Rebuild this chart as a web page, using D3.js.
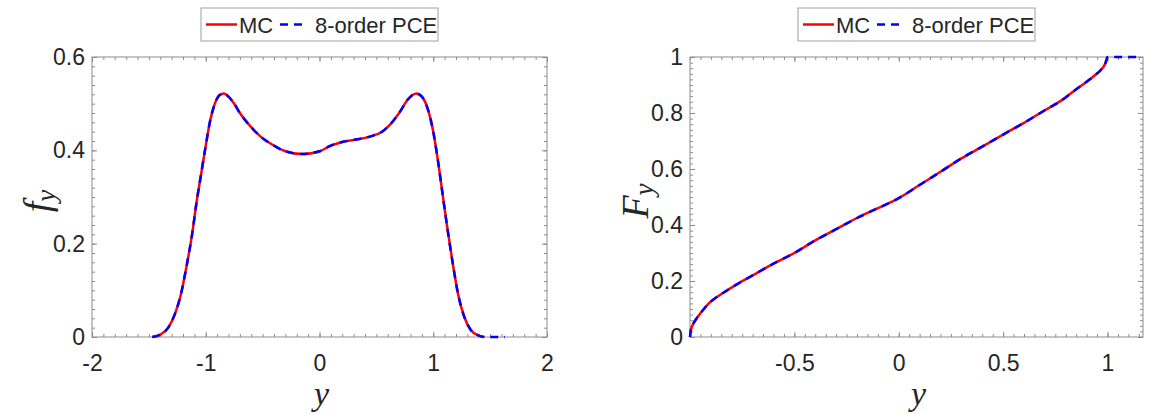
<!DOCTYPE html>
<html>
<head>
<meta charset="utf-8">
<script src="https://d3js.org/d3.v7.min.js"></script>
<style>
  body { margin: 0; background: #fff; }
  .tick text { font-family: "Liberation Sans", Arial, sans-serif; font-size: 23px; fill: #262626; }
  .tick line { stroke: #8c8c8c; }
  .legendText { font-family: "Liberation Sans", Arial, sans-serif; font-size: 21px; fill: #262626; }
  .mathLabel { font-family: "Liberation Serif", "Times New Roman", serif; font-style: italic; fill: #262626; }
</style>
</head>
<body>
<script>
//pdf and cdf of y, MC against 8-order PCE

//pdf panel data
var pdfX = [-1.47, -1.40, -1.33, -1.27, -1.22, -1.17, -1.12, -1.08, -1.04, -1.00, -0.96, -0.92, -0.88, -0.84, -0.80, -0.75, -0.70, -0.62, -0.52, -0.42, -0.30, -0.15, 0.00, 0.10, 0.20, 0.32, 0.45, 0.55, 0.62, 0.70, 0.78, 0.85, 0.90, 0.95, 1.00, 1.04, 1.08, 1.12, 1.17, 1.22, 1.27, 1.33, 1.40, 1.45];
var pdfMC = [0, 0.005, 0.02, 0.05, 0.09, 0.15, 0.22, 0.29, 0.35, 0.41, 0.465, 0.50, 0.518, 0.522, 0.515, 0.50, 0.48, 0.455, 0.43, 0.413, 0.398, 0.392, 0.398, 0.41, 0.418, 0.423, 0.43, 0.44, 0.455, 0.48, 0.51, 0.522, 0.515, 0.49, 0.44, 0.38, 0.31, 0.24, 0.16, 0.09, 0.045, 0.015, 0.003, 0];
//pce runs a little further along zero
var pdfTailX = [1.50, 1.56, 1.63];
var pdfTailY = [0, 0, 0];

//cdf panel data
var cdfX = [-1.0, -0.997, -0.99, -0.98, -0.965, -0.95, -0.93, -0.91, -0.88, -0.84, -0.78, -0.70, -0.60, -0.50, -0.40, -0.30, -0.20, -0.10, 0.00, 0.10, 0.20, 0.30, 0.40, 0.50, 0.60, 0.70, 0.78, 0.85, 0.90, 0.94, 0.97, 0.99, 1.00];
var cdfMC = [0, 0.02, 0.038, 0.053, 0.07, 0.085, 0.103, 0.12, 0.138, 0.158, 0.186, 0.22, 0.262, 0.30, 0.345, 0.385, 0.425, 0.46, 0.496, 0.543, 0.59, 0.638, 0.68, 0.723, 0.765, 0.81, 0.845, 0.885, 0.912, 0.935, 0.955, 0.978, 1.0];
var cdfTailX = [1.05, 1.10, 1.15];
var cdfTailY = [1, 1, 1];

//axis ticks
var pdfXTicks = [-2, -1, 0, 1, 2];
var pdfYTicks = [0, 0.2, 0.4, 0.6];
var cdfXTicks = [-0.5, 0, 0.5, 1];
var cdfYTicks = [0, 0.2, 0.4, 0.6, 0.8, 1];

var seriesNames = ["MC", "8-order PCE"];

var w = 1169, h = 414;

window.onload = function(){

    var svg = d3.select("body")
        .append("svg")
        .attr("width", w)
        .attr("height", h);

    function pairs(xs, ys){
        return xs.map(function(d, i){ return [d, ys[i]]; });
    }

    function range(a, b, step){
        var out = [];
        var n = Math.round((b - a) / step);
        for (var i = 0; i <= n; i++) out.push(+(a + i * step).toFixed(4));
        return out;
    }

    //plain hyphen for negatives, like matlab
    var fmt = function(d){ return String(d); };
    var blank = function(){ return ""; };

    function panel(p){
        var x = d3.scaleLinear().domain(p.xDomain).range([p.left, p.right]);
        var y = d3.scaleLinear().domain(p.yDomain).range([p.bottom, p.top]);
        var g = svg.append("g");

        //ticks point inward on all four sides, labels only bottom and left
        var xMinor = range(p.xDomain[0], p.xDomain[1], p.xMinor);
        var yMinor = range(p.yDomain[0], p.yDomain[1], p.yMinor);
        var sides = [
            {make: function(){ return d3.axisBottom(x); }, at: "translate(0," + p.bottom + ")", minor: xMinor, major: p.xTicks, label: true, pad: 18},
            {make: function(){ return d3.axisTop(x); }, at: "translate(0," + p.top + ")", minor: xMinor, major: p.xTicks, label: false, pad: 18},
            {make: function(){ return d3.axisLeft(y); }, at: "translate(" + p.left + ",0)", minor: yMinor, major: p.yTicks, label: true, pad: 7},
            {make: function(){ return d3.axisRight(y); }, at: "translate(" + p.right + ",0)", minor: yMinor, major: p.yTicks, label: false, pad: 7}
        ];
        sides.forEach(function(s){
            g.append("g")
                .attr("transform", s.at)
                .call(s.make().tickValues(s.minor).tickSize(-3).tickFormat(blank))
                .call(function(a){ a.select(".domain").remove(); });
            g.append("g")
                .attr("transform", s.at)
                .call(s.make().tickValues(s.major).tickSize(-5).tickPadding(s.pad)
                    .tickFormat(s.label ? fmt : blank))
                .call(function(a){ a.select(".domain").remove(); });
        });

        g.append("rect")
            .attr("x", p.left)
            .attr("y", p.top)
            .attr("width", p.right - p.left)
            .attr("height", p.bottom - p.top)
            .style("fill", "none")
            .style("stroke", "#8c8c8c")
            .style("stroke-width", 1);

        var line = d3.line()
            .x(function(d){ return x(d[0]); })
            .y(function(d){ return y(d[1]); })
            .curve(d3.curveMonotoneX);

        var mc = pairs(p.xs, p.ys);
        var pce = mc.concat(pairs(p.tailX, p.tailY));

        g.append("path")
            .attr("d", line(mc))
            .style("fill", "none")
            .style("stroke", "#ff0000")
            .style("stroke-width", 2.5);

        g.append("path")
            .attr("d", line(pce))
            .style("fill", "none")
            .style("stroke", "#0000ff")
            .style("stroke-width", 2.5)
            .style("stroke-dasharray", "8,6");

        //legend box centred over the axes
        var cx = (p.left + p.right) / 2;
        var lw = 237, lx = cx - lw / 2;
        var leg = g.append("g").attr("transform", "translate(" + lx + ",8)");
        leg.append("rect")
            .attr("width", lw)
            .attr("height", 33)
            .style("fill", "#fff")
            .style("stroke", "#a0a0a0");
        leg.append("line")
            .attr("x1", 5).attr("x2", 36).attr("y1", 16.5).attr("y2", 16.5)
            .style("stroke", "#ff0000").style("stroke-width", 2.5);
        leg.append("text")
            .attr("class", "legendText")
            .attr("x", 38).attr("y", 24.5)
            .style("font-size", "22px")
            .text(seriesNames[0]);
        leg.append("line")
            .attr("x1", 79).attr("x2", 103).attr("y1", 16.5).attr("y2", 16.5)
            .style("stroke", "#0000ff").style("stroke-width", 2.5)
            .style("stroke-dasharray", "8,6");
        leg.append("text")
            .attr("class", "legendText")
            .attr("x", 114).attr("y", 24.5)
            .style("font-size", "22px")
            .text(seriesNames[1]);

        //axis labels in math italic
        g.append("text")
            .attr("class", "mathLabel")
            .attr("x", cx + 2)
            .attr("y", 405)
            .attr("text-anchor", "middle")
            .style("font-size", "34px")
            .text("y");

        var yl = g.append("text")
            .attr("class", "mathLabel")
            .attr("transform", "translate(" + p.yLabelX + "," + ((p.top + p.bottom) / 2 + 4) + ") rotate(-90)")
            .attr("text-anchor", "middle")
            .style("font-size", "38px");
        yl.append("tspan").text(p.yLabel);
        yl.append("tspan").attr("dy", 5).style("font-size", "27px").text("y");
    }

    panel({
        left: 92, right: 547, top: 57, bottom: 337,
        xDomain: [-2, 2], yDomain: [0, 0.6],
        xTicks: pdfXTicks, yTicks: pdfYTicks, xMinor: 0.1, yMinor: 0.02,
        xs: pdfX, ys: pdfMC, tailX: pdfTailX, tailY: pdfTailY,
        yLabel: "f", yLabelX: 50
    });

    panel({
        left: 690, right: 1143, top: 57, bottom: 337,
        xDomain: [-1, 1.17], yDomain: [0, 1],
        xTicks: cdfXTicks, yTicks: cdfYTicks, xMinor: 0.05, yMinor: 0.02,
        xs: cdfX, ys: cdfMC, tailX: cdfTailX, tailY: cdfTailY,
        yLabel: "F", yLabelX: 648
    });
};
</script>
</body>
</html>
